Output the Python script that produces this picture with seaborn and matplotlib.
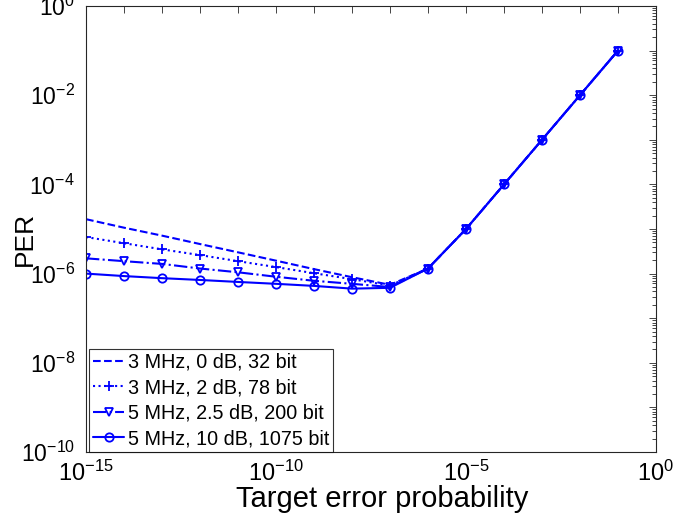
import numpy as np
import pandas as pd
import matplotlib
matplotlib.use("Agg")
import matplotlib.pyplot as plt
from matplotlib.ticker import FixedLocator, LogLocator, NullLocator, NullFormatter
import seaborn as sns

# ---- data ----
target = [1e-15, 1e-14, 1e-13, 1e-12, 1e-11, 1e-10, 1e-9, 1e-8, 1e-7,
          1e-6, 1e-5, 1e-4, 1e-3, 1e-2, 1e-1]
per_3mhz_0db = [1.66e-5, 1.07e-5, 7.1e-6, 4.6e-6, 3.0e-6, 1.95e-6, 1.26e-6, 8.3e-7, 5.6e-7,
                1.3e-6, 1e-5, 1e-4, 1e-3, 1e-2, 1e-1]
per_3mhz_2db = [6.6e-6, 4.8e-6, 3.5e-6, 2.6e-6, 1.9e-6, 1.4e-6, 1.02e-6, 7.5e-7, 5.4e-7,
                1.3e-6, 1e-5, 1e-4, 1e-3, 1e-2, 1e-1]
per_5mhz_25db = [2.2e-6, 1.9e-6, 1.65e-6, 1.3e-6, 1.07e-6, 8.5e-7, 6.9e-7, 5.9e-7, 5.0e-7,
                 1.3e-6, 1e-5, 1e-4, 1e-3, 1e-2, 1e-1]
per_5mhz_10db = [1.0e-6, 8.8e-7, 7.9e-7, 7.2e-7, 6.5e-7, 5.9e-7, 5.3e-7, 4.6e-7, 4.8e-7,
                 1.3e-6, 1e-5, 1e-4, 1e-3, 1e-2, 1e-1]
series_labels = ["3 MHz, 0 dB, 32 bit", "3 MHz, 2 dB, 78 bit",
                 "5 MHz, 2.5 dB, 200 bit", "5 MHz, 10 dB, 1075 bit"]
x_label = "Target error probability"
y_label = "PER"

series_values = [per_3mhz_0db, per_3mhz_2db, per_5mhz_25db, per_5mhz_10db]
df = pd.concat([pd.DataFrame({"x": target, "y": v, "series": lab})
                for lab, v in zip(series_labels, series_values)], ignore_index=True)

# ---- style ----
sns.set_theme(style="white")
plt.rcParams["font.family"] = ["Liberation Sans", "DejaVu Sans"]
plt.rcParams["mathtext.fontset"] = "custom"
plt.rcParams["mathtext.rm"] = "Liberation Sans"
plt.rcParams["mathtext.it"] = "Liberation Sans:italic"
plt.rcParams["mathtext.bf"] = "Liberation Sans:bold"
plt.rcParams["axes.unicode_minus"] = False
plt.rcParams["text.color"] = "black"
plt.rcParams["axes.labelcolor"] = "black"

fig = plt.figure(figsize=(6.97, 5.16), dpi=100)
ax = fig.add_axes([86/697, (516-452)/516, (656-86)/697, (452-6)/516])

styles = [("--", None), (":", "+"), ("-.", "v"), ("-", "o")]
blue = (0, 0, 1)
for lab, (ls, mk) in zip(series_labels, styles):
    sub = df[df["series"] == lab]
    sns.lineplot(data=sub, x="x", y="y", ax=ax, color=blue, linestyle=ls,
                 marker=mk if mk else "", markersize=6 if mk != "+" else 7,
                 markerfacecolor="none", markeredgecolor=blue, markeredgewidth=1.3,
                 linewidth=1.5, label=lab, estimator=None, sort=False)

ax.set_xscale("log")
ax.set_yscale("log")
ax.set_xlim(1e-15, 1e0)
ax.set_ylim(1e-10, 1e0)

xt = [10.0**k for k in range(-15, 1)]
ax.xaxis.set_major_locator(FixedLocator(xt))
ax.set_xticklabels([f"$10^{{{k}}}$" if k % 5 == 0 else "" for k in range(-15, 1)])
ax.xaxis.set_minor_locator(NullLocator())
yt = [10.0**k for k in range(-10, 1)]
ax.yaxis.set_major_locator(FixedLocator(yt))
ax.set_yticklabels([f"$10^{{{k}}}$" if k % 2 == 0 else "" for k in range(-10, 1)])
ax.yaxis.set_minor_locator(LogLocator(base=10, subs=np.arange(2, 10), numticks=20))
ax.yaxis.set_minor_formatter(NullFormatter())

ax.tick_params(which="both", direction="in", top=True, right=True, colors="#262626",
               labelcolor="black", width=0.6)
ax.tick_params(axis="x", labelsize=17, pad=6)
ax.tick_params(axis="y", labelsize=16.5, pad=8)
ax.tick_params(which="major", length=5)
ax.tick_params(which="minor", length=3)
for s in ax.spines.values():
    s.set_color("#262626")
    s.set_linewidth(0.8)

ax.set_xlabel(x_label, fontsize=21)
ax.set_ylabel(y_label, fontsize=19)
ax.xaxis.set_label_coords(0.519, -0.074)
ax.yaxis.set_label_coords(-0.086, 0.478)

leg = ax.legend(loc="lower left", bbox_to_anchor=(0.006, 0.0), fontsize=14.2,
                frameon=True, fancybox=False, edgecolor="black",
                handlelength=1.55, handletextpad=0.2,
                borderaxespad=0.0, borderpad=0.2, labelspacing=0.33)
leg.get_frame().set_linewidth(0.8)

fig.savefig("out.png", dpi=100)
